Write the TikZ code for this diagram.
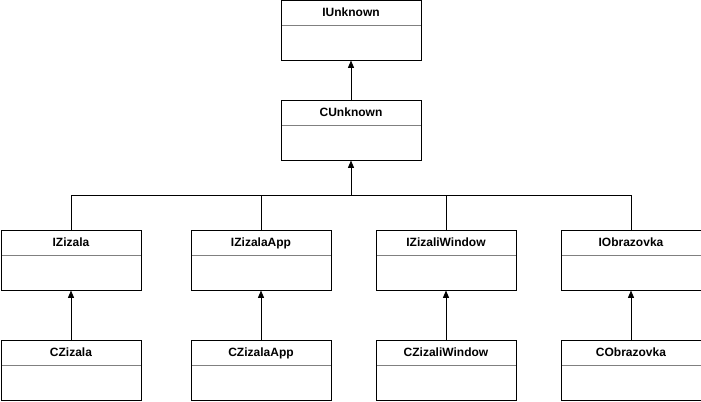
\documentclass[tikz,border=0pt]{standalone}
\usepackage{fontspec}
\setmainfont{Liberation Sans}
\usepackage{tikz}
\usetikzlibrary{arrows.meta, positioning}

\begin{document}
\begin{tikzpicture}[
    x=0.75pt, y=-0.75pt,
    every node/.style={font=\fontsize{9}{11}\selectfont\bfseries},
    cls/.style={draw, line width=0.75pt, minimum width=105pt, minimum height=45pt, inner sep=0pt,
      path picture={\draw[gray, line width=0.6pt]
        ([yshift=-19pt]path picture bounding box.north west) -- ([yshift=-19pt]path picture bounding box.north east);}},
    ttl/.style={anchor=center, yshift=-10.5pt, inner sep=0pt, text height=6.5pt, text depth=1.5pt},
    inh/.style={line width=0.75pt, -{Triangle[length=5.5pt, width=4.5pt]}}
]
\useasboundingbox (0,0) rectangle (701,401);
% top of the hierarchy
\node[cls, label={[ttl]north:IUnknown}] (iunk) at (351,30) {};
\node[cls, label={[ttl]north:CUnknown}] (cunk) at (351,130) {};
% interfaces and their classes
\foreach \x/\n in {71/Zizala,261/ZizalaApp,446/ZizaliWindow,631/Obrazovka} {
  \node[cls, label={[ttl]north:I\n}] (i\n) at (\x,260) {};
  \node[cls, label={[ttl]north:C\n}] (c\n) at (\x,370) {};
  \draw[inh] (c\n) -- (i\n);
}
\coordinate (bus) at (351,195);
\foreach \n in {Zizala,ZizalaApp,ZizaliWindow,Obrazovka}
  \draw[line width=0.75pt] (i\n) |- (bus);
\draw[inh] (bus) -- (cunk);
\draw[inh] (cunk) -- (iunk);
\end{tikzpicture}
\end{document}
